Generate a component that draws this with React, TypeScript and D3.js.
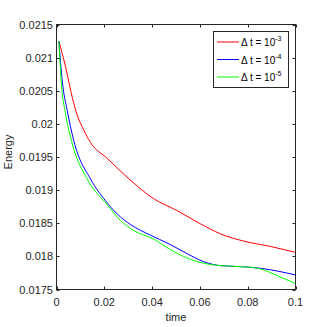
import React, { useEffect, useRef } from 'react';
import * as d3 from 'd3';

// time samples and energies
const redT = [0.001, 0.0038, 0.0066, 0.0087, 0.0115, 0.0142, 0.0212, 0.0303, 0.0407, 0.0505, 0.0603, 0.0686, 0.0784, 0.0895, 0.1];
const redE = [0.02125, 0.02086, 0.02040, 0.02013, 0.01990, 0.01972, 0.01948, 0.01917, 0.01887, 0.01869, 0.01849, 0.01834, 0.01823, 0.01815, 0.01806];

const blueT = [0.001, 0.0024, 0.0045, 0.0072, 0.0142, 0.0205, 0.0254, 0.031, 0.0393, 0.047, 0.0547, 0.0616, 0.0686, 0.0798, 0.0854, 0.1];
const blueE = [0.02125, 0.02065, 0.02020, 0.01975, 0.01917, 0.01884, 0.01864, 0.01848, 0.01832, 0.01819, 0.01804, 0.01792, 0.01786, 0.01784, 0.01782, 0.01772];

const greenT = [0.001, 0.002, 0.0038, 0.0066, 0.0128, 0.0212, 0.0268, 0.0323, 0.0407, 0.0477, 0.0589, 0.0686, 0.0798, 0.0854, 0.0923, 0.1];
const greenE = [0.02125, 0.02062, 0.02015, 0.01970, 0.01917, 0.01878, 0.01854, 0.01839, 0.01826, 0.01810, 0.01792, 0.01786, 0.01784, 0.01781, 0.01771, 0.01759];

const xTicks = [0, 0.02, 0.04, 0.06, 0.08, 0.1];
const yTicks = [0.0175, 0.018, 0.0185, 0.019, 0.0195, 0.02, 0.0205, 0.021, 0.0215];
const legendExp = ['-3', '-4', '-5'];

const series = [
  { t: redT, e: redE, color: '#ff0000' },
  { t: blueT, e: blueE, color: '#0000ff' },
  { t: greenT, e: greenE, color: '#00ff00' },
];

const App = () => {
  const svgRef = useRef<SVGSVGElement>(null);

  useEffect(() => {
    const svg = d3.select(svgRef.current);
    svg.selectAll('*').remove();

    const left = 56.5, right = 295.5, top = 24.5, bottom = 289.5;
    const axisColor = '#262626';
    const font = 'Arial, "Liberation Sans", Helvetica, sans-serif';

    const x = d3.scaleLinear().domain([0, 0.1]).range([left, right]);
    const y = d3.scaleLinear().domain([0.0175, 0.0215]).range([bottom, top]);

    const plot = svg.append('g');

    // data lines
    const line = d3.line<[number, number]>()
      .x(d => x(d[0]))
      .y(d => y(d[1]))
      .curve(d3.curveMonotoneX);

    series.forEach(s => {
      plot.append('path')
        .datum(s.t.map((t, i) => [t, s.e[i]] as [number, number]))
        .attr('d', line)
        .attr('fill', 'none')
        .attr('stroke', s.color)
        .attr('stroke-width', 1);
    });

    // box
    svg.append('rect')
      .attr('x', left).attr('y', top)
      .attr('width', right - left).attr('height', bottom - top)
      .attr('fill', 'none').attr('stroke', axisColor).attr('stroke-width', 1);

    const tl = 3;
    // x ticks (bottom and top, inward)
    xTicks.forEach(v => {
      const px = Math.round(x(v)) + 0.5;
      svg.append('line').attr('x1', px).attr('x2', px).attr('y1', bottom).attr('y2', bottom - tl)
        .attr('stroke', axisColor);
      svg.append('line').attr('x1', px).attr('x2', px).attr('y1', top).attr('y2', top + tl)
        .attr('stroke', axisColor);
      svg.append('text')
        .attr('x', x(v)).attr('y', 306)
        .attr('text-anchor', 'middle')
        .attr('font-family', font).attr('font-size', 11)
        .attr('fill', axisColor)
        .text(d3.format('~g')(v));
    });

    // y ticks (left and right, inward)
    yTicks.forEach(v => {
      const py = Math.round(y(v)) + 0.5;
      svg.append('line').attr('x1', left).attr('x2', left + tl).attr('y1', py).attr('y2', py)
        .attr('stroke', axisColor);
      svg.append('line').attr('x1', right).attr('x2', right - tl).attr('y1', py).attr('y2', py)
        .attr('stroke', axisColor);
      svg.append('text')
        .attr('x', 53).attr('y', y(v) + 4)
        .attr('text-anchor', 'end')
        .attr('font-family', font).attr('font-size', 11)
        .attr('fill', axisColor)
        .text(d3.format('~g')(v));
    });

    // axis labels
    svg.append('text')
      .attr('x', (left + right) / 2).attr('y', 321)
      .attr('text-anchor', 'middle')
      .attr('font-family', font).attr('font-size', 11)
      .attr('fill', axisColor)
      .text('time');

    svg.append('text')
      .attr('transform', `translate(12, 152) rotate(-90)`)
      .attr('text-anchor', 'middle')
      .attr('font-family', font).attr('font-size', 11)
      .attr('fill', axisColor)
      .text('Energy');

    // legend
    const lg = svg.append('g');
    lg.append('rect')
      .attr('x', 213.5).attr('y', 31.5).attr('width', 75).attr('height', 56)
      .attr('fill', '#ffffff').attr('stroke', axisColor).attr('stroke-width', 1);

    series.forEach((s, i) => {
      const ry = 42 + i * 17.5;
      lg.append('line')
        .attr('x1', 217).attr('x2', 239).attr('y1', ry).attr('y2', ry)
        .attr('stroke', s.color).attr('stroke-width', 1);
      const txt = lg.append('text')
        .attr('x', 241).attr('y', ry + 4)
        .attr('font-family', font).attr('font-size', 10)
        .attr('fill', '#000');
      txt.append('tspan').text('\u0394 t = 10');
      txt.append('tspan')
        .attr('font-size', 7).attr('dy', -5)
        .text(legendExp[i]);
    });
  }, []);

  return (
    <div style={{ position: 'absolute', left: 0, top: 0, width: 327, height: 327, background: '#fff' }}>
      <svg ref={svgRef} width={327} height={327}></svg>
    </div>
  );
};

export default App;
